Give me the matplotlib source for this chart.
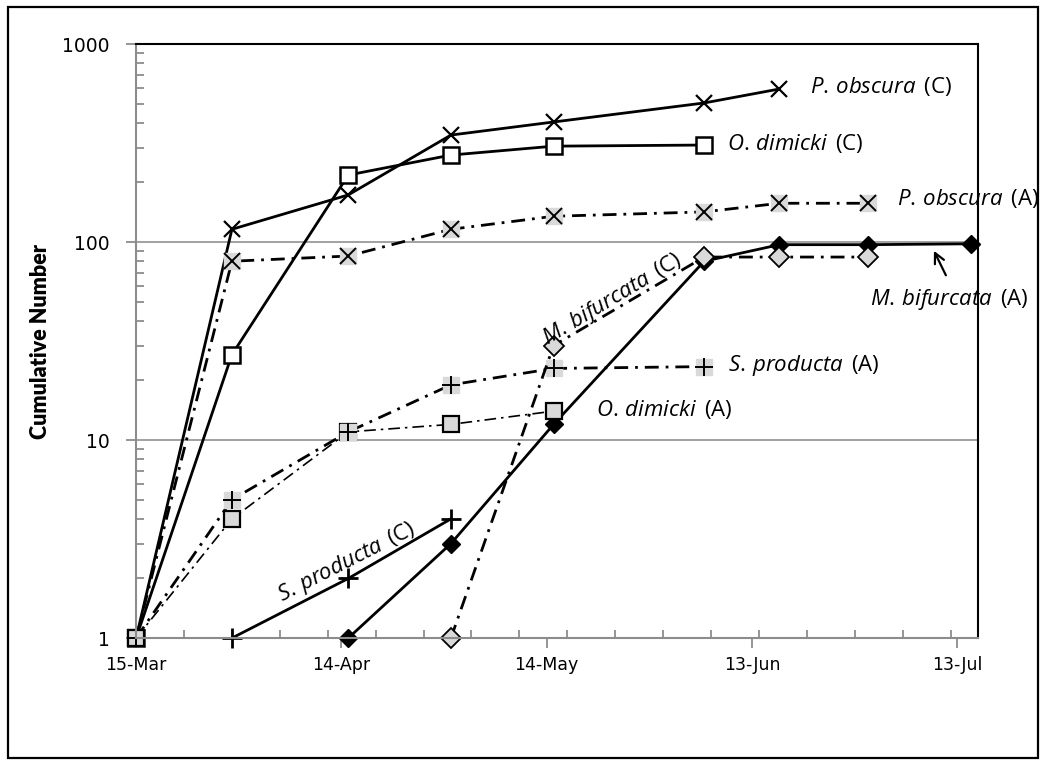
import matplotlib
matplotlib.use('Agg')
import matplotlib.pyplot as plt
import numpy as np
from matplotlib.patches import Rectangle

plt.rcParams['mathtext.fontset'] = 'custom'
plt.rcParams['mathtext.it'] = 'Open Sans:italic'
plt.rcParams['mathtext.rm'] = 'Open Sans'
plt.rcParams['font.family'] = ['Open Sans', 'DejaVu Sans']

# days after 15-Mar and cumulative numbers
po_c_days = [0, 14, 31, 46, 61, 83, 94]
po_c_vals = [1, 116, 173, 347, 404, 504, 593]
po_a_days = [0, 14, 31, 46, 61, 83, 94, 107]
po_a_vals = [1, 80, 85, 116, 135, 142, 157, 157]
od_c_days = [0, 14, 31, 46, 61, 83]
od_c_vals = [1, 27, 218, 275, 305, 309]
od_a_days = [0, 14, 31, 46, 61]
od_a_vals = [1, 4, 11, 12, 14]
sp_c_days = [14, 31, 46]
sp_c_vals = [1, 2, 4]
sp_a_days = [0, 14, 31, 46, 61, 83]
sp_a_vals = [1, 5, 11, 19, 23, 23.5]
mb_solid_days = [31, 46, 61, 83, 94, 107, 122]
mb_solid_vals = [1, 3, 12, 80, 97, 97, 98]
mb_dash_days = [46, 61, 83, 94, 107]
mb_dash_vals = [1, 30, 84, 84, 84]

major_days = [0, 30, 60, 90, 120]
major_labels = ['15-Mar', '14-Apr', '14-May', '13-Jun', '13-Jul']

fig = plt.figure(figsize=(10.47, 7.66), dpi=100)
ax = fig.add_axes([0.130, 0.167, 0.804, 0.7755])

grey_bg = '#d9d9d9'
dashdot = (0, (5, 2.5, 1, 2.5))
thin_dashdot = (0, (7, 3, 1.5, 3))
nc = dict(clip_on=False)

# (C) series: solid
ax.plot(po_c_days, po_c_vals, color='black', lw=2, marker='x', ms=12, mew=1.6,
        markevery=slice(1, None), **nc)
ax.plot(od_c_days, od_c_vals, color='black', lw=2, marker='s', ms=12, mew=1.8,
        mfc='white', mec='black', **nc)
ax.plot(sp_c_days, sp_c_vals, color='black', lw=2, marker='+', ms=14, mew=2, **nc)
ax.plot(mb_solid_days, mb_solid_vals, color='black', lw=2, marker='D', ms=9,
        mfc='black', mec='black', **nc)

# (A) series: dash-dot, markers on grey background
ax.plot(po_a_days, po_a_vals, color='black', lw=2, linestyle=dashdot, **nc)
ax.plot(po_a_days[1:], po_a_vals[1:], linestyle='none', marker='s', ms=11,
        mfc=grey_bg, mec=grey_bg, **nc)
ax.plot(po_a_days[1:], po_a_vals[1:], linestyle='none', marker='x', ms=12,
        mew=1.4, color='black', **nc)
ax.plot(od_a_days, od_a_vals, color='black', lw=1.2, linestyle=thin_dashdot,
        marker='s', ms=12, mew=1.6, mfc=grey_bg, mec='black', **nc)
ax.plot(sp_a_days, sp_a_vals, color='black', lw=2, linestyle=dashdot, **nc)
ax.plot(sp_a_days, sp_a_vals, linestyle='none', marker='s', ms=11,
        mfc=grey_bg, mec=grey_bg, **nc)
ax.plot(sp_a_days, sp_a_vals, linestyle='none', marker='+', ms=13,
        mew=1.4, color='black', **nc)
ax.plot(od_a_days[:1], od_a_vals[:1], linestyle='none', marker='s', ms=12,
        mew=1.6, mfc='none', mec='black', **nc)
ax.plot(mb_dash_days, mb_dash_vals, color='black', lw=2, linestyle=dashdot,
        marker='D', ms=10, mew=1.3, mfc=grey_bg, mec='black', **nc)

ax.set_yscale('log')
ax.set_ylim(1, 1000)
ax.set_xlim(0, 123)

ax.set_xticks(major_days)
ax.set_xticklabels(major_labels, family='DejaVu Sans')
ax.set_xticks(np.arange(0, 123, 7), minor=True)
ax.set_yticks([1, 10, 100, 1000])
ax.set_yticklabels(['1', '10', '100', '1000'], family='DejaVu Sans')

ax.tick_params(axis='both', which='major', direction='out', length=7,
               width=1.3, color='#8c8c8c', labelsize=13.5, pad=12)
ax.tick_params(axis='both', which='minor', direction='in', length=6,
               width=1.3, color='#8c8c8c')
ax.tick_params(axis='x', which='major', labelsize=12.5, pad=6)

for s in ['left', 'bottom']:
    ax.spines[s].set_color('#8c8c8c')
    ax.spines[s].set_linewidth(1.5)
for s in ['top', 'right']:
    ax.spines[s].set_color('black')
    ax.spines[s].set_linewidth(1.5)

for g in [10, 100]:
    ax.axhline(g, color='#9a9a9a', lw=1.3, zorder=0)

ax.set_ylabel('Cumulative Number', fontsize=15.5, fontweight='heavy',
              family='Lato', labelpad=8)

lab = dict(fontsize=16, va='center', ha='left', clip_on=False)
ax.text(98.5, 610, r'$\mathit{P.\,obscura}\,$ (C)', **lab)
ax.text(86.3, 315, r'$\mathit{O.\,dimicki}\,$ (C)', **lab)
ax.text(111.2, 165, r'$\mathit{P.\,obscura}\,$ (A)', **lab)
ax.text(107.2, 51, r'$\mathit{M.\,bifurcata}\,$ (A)', **lab)
ax.text(86.5, 23.9, r'$\mathit{S.\,producta}\,$ (A)', **lab)
ax.text(67.2, 14.2, r'$\mathit{O.\,dimicki}\,$ (A)', **lab)
ax.text(30.8, 2.42, r'$\mathit{S.\,producta}\,$ (C)', fontsize=16, ha='center',
        va='center', rotation=27, rotation_mode='anchor')
ax.text(69.6, 51, r'$\mathit{M.\,bifurcata}\,$ (C)', fontsize=16, ha='center',
        va='center', rotation=31, rotation_mode='anchor')
ax.annotate('', xy=(116.4, 93), xytext=(118.5, 66),
            arrowprops=dict(arrowstyle='->', color='black', lw=1.6,
                            mutation_scale=18))

fig.add_artist(Rectangle((8 / 1047, 1 - 758 / 766), 1030 / 1047, 751 / 766,
                         transform=fig.transFigure, fill=False,
                         ec='black', lw=1.6))

fig.savefig('out.png', dpi=100)
